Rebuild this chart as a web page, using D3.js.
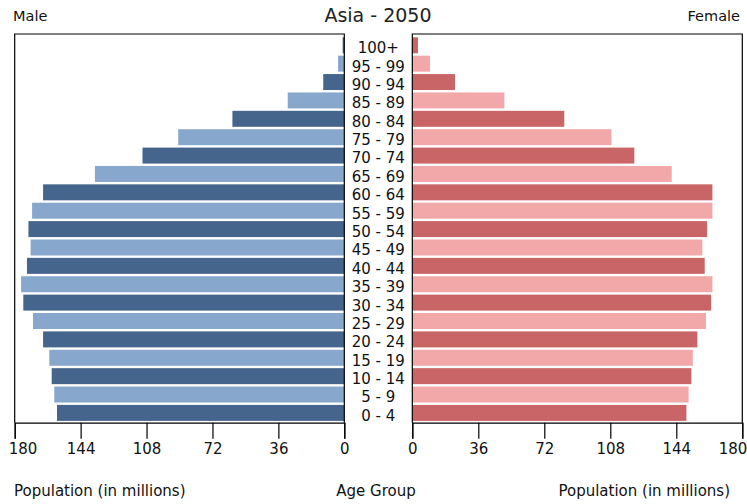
<!DOCTYPE html>
<html><head><meta charset="utf-8">
<script src="https://cdn.jsdelivr.net/npm/d3@7"></script>
<style>body{margin:0;background:#fff;}svg{display:block;font-family:"DejaVu Sans",sans-serif;}</style>
</head><body>
<svg id="c" width="747" height="504"></svg>
<script>
const ageGroups = ["0 - 4","5 - 9","10 - 14","15 - 19","20 - 24","25 - 29","30 - 34","35 - 39","40 - 44","45 - 49","50 - 54","55 - 59","60 - 64","65 - 69","70 - 74","75 - 79","80 - 84","85 - 89","90 - 94","95 - 99","100+"];
const male   = [156.9,158.4,159.8,161.1,164.5,170.0,175.3,176.5,173.3,171.3,172.5,170.5,164.5,136.2,110.2,90.7,61.1,30.9,11.5,3.4,0.9];
const female = [149.5,150.7,152.2,153.0,155.5,160.2,163.0,163.7,159.5,158.2,160.8,163.7,163.7,141.5,121.1,108.6,82.9,50.2,23.3,9.7,3.1];
const tickValues = [0,36,72,108,144,180];
const title = "Asia - 2050";

const svg = d3.select("#c");
const plotTop = 34, plotBottom = 422.7;
const y = d3.scaleBand().domain(ageGroups.slice().reverse()).range([36.1, 422.1]).paddingInner(0.13).paddingOuter(0.065);
const xL = d3.scaleLinear().domain([0,180]).range([344.3,14.7]);
const xR = d3.scaleLinear().domain([0,180]).range([412.3,742.3]);

const maleCol = ["#46658c","#87a7cd"];
const femCol = ["#c96566","#f2a7a9"];

// bars
svg.append("g").selectAll("rect").data(ageGroups).join("rect")
  .attr("x", (d,i)=>xL(male[i])).attr("y", d=>y(d))
  .attr("width", (d,i)=>xL(0)-xL(male[i])).attr("height", y.bandwidth())
  .attr("fill", (d,i)=>maleCol[i%2]);
svg.append("g").selectAll("rect").data(ageGroups).join("rect")
  .attr("x", xR(0)).attr("y", d=>y(d))
  .attr("width", (d,i)=>xR(female[i])-xR(0)).attr("height", y.bandwidth())
  .attr("fill", (d,i)=>femCol[i%2]);

// panel frames
[[xL(180), xL(0)],[xR(0), xR(180)]].forEach(([a,b])=>{
  svg.append("path").attr("d", `M${a},${plotBottom}V${plotTop}H${b}V${plotBottom}`)
    .attr("fill","none").attr("stroke","#000").attr("stroke-width",1.2);
});

// axes
function drawAxis(scale, side){
  const g = svg.append("g").attr("transform",`translate(0,${plotBottom})`)
    .call(d3.axisBottom(scale).tickValues(tickValues).tickSize(16).tickPadding(5).tickFormat(d3.format("d")));
  g.select(".domain").attr("stroke","#000").attr("stroke-width",1.2);
  g.selectAll(".tick line").attr("stroke","#000").attr("stroke-width",1.2);
  g.selectAll("text").attr("font-size",15).attr("font-family","DejaVu Sans").attr("fill","#111");
  // keep the 180 label inside the picture, as in the reference
  g.selectAll(".tick").filter(d=>d===180).select("text")
    .attr("text-anchor", side==="left" ? "start" : "end")
    .attr("x", side==="left" ? -6.5 : 4.5);
}
drawAxis(xL,"left"); drawAxis(xR,"right");

// age labels
svg.append("g").selectAll("text").data(ageGroups).join("text")
  .attr("x", 378.3).attr("y", d=>y(d)+y.bandwidth()/2+2.5)
  .attr("dy","0.36em").attr("text-anchor","middle")
  .attr("font-size",15).attr("fill","#111").text(d=>d);

svg.append("text").attr("x",378).attr("y",22).attr("text-anchor","middle").attr("font-size",19).attr("fill","#222").text(title);
svg.append("text").attr("x",13).attr("y",21).attr("font-size",14.5).attr("fill","#111").text("Male");
svg.append("text").attr("x",740).attr("y",21).attr("text-anchor","end").attr("font-size",14.5).attr("fill","#111").text("Female");
svg.append("text").attr("x",14).attr("y",496).attr("font-size",15).attr("fill","#111").text("Population (in millions)");
svg.append("text").attr("x",376).attr("y",496).attr("text-anchor","middle").attr("font-size",15).attr("fill","#111").text("Age Group");
svg.append("text").attr("x",730).attr("y",496).attr("text-anchor","end").attr("font-size",15).attr("fill","#111").text("Population (in millions)");
</script>
</body></html>
